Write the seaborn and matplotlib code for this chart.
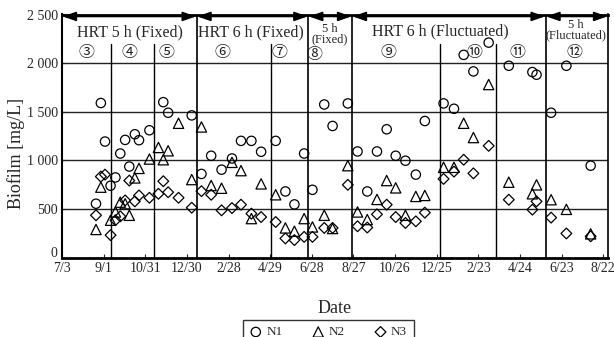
import numpy as np
import seaborn as sns
import matplotlib.pyplot as plt
from matplotlib.transforms import ScaledTranslation

nan = np.nan

# sampling day, counted from 7/3 of the first year
days = [49, 56, 62, 70, 77, 84, 91, 97, 105, 111, 126, 139, 146, 153, 168, 187,
        201, 215, 230, 245, 258, 273, 287, 308, 322, 335, 349, 361, 378, 390, 412,
        426, 440, 454, 468, 481, 495, 510, 523, 550, 565, 579, 593, 615, 644, 678,
        684, 705, 727, 762]
n1 = [555, 1590, 1194, 740, 825, 1071, 1211, 937, 1269, 1208, 1310, nan, 1599, 1490, nan, 1463,
      861, 1048, 905, 1020, 1201, 1201, 1089, 1201, 681, 548, 1071, 698, 1575, 1354, 1586,
      1092, 681, 1092, 1320, 1048, 997, 854, 1405, 1586, 1531, 2085, 1915, 2211, 1973, 1908,
      1881, 1490, 1973, 946]
n2 = [290, 725, nan, 385, 470, 571, 555, 436, 820, 918, 1014, 1133, 1007, 1099, 1382, 803,
      1344, 742, 714, 980, 895, 402, 759, 647, 306, 272, 402, 316, 436, 300, 946,
      470, 392, 599, 793, 718, 436, 630, 640, 929, 929, 1382, 1235, 1780, 776, 657,
      749, 596, 497, 245]
n3 = [436, 834, 854, 232, 385, 425, 589, 793, 579, 640, 616, 657, 786, 673, 616, 514,
      684, 647, 487, 510, 545, 453, 418, 367, 198, 181, 214, 214, 306, 306, 749,
      323, 310, 446, 545, 418, 357, 374, 463, 810, 885, 1007, 867, 1150, 596, 494,
      579, 412, 249, 220]

tick_days = list(range(0, 781, 60))
tick_labels = ['7/3', '9/1', '10/31', '12/30', '2/28', '4/29', '6/28', '8/27',
               '10/26', '12/25', '2/23', '4/24', '6/23', '8/22']
y_ticks = [0, 500, 1000, 1500, 2000, 2500]
y_labels = ['0', '500', '1 000', '1 500', '2 000', '2 500']

# operating periods (long lines) and sub-runs (short lines)
period_edges = [0, 194, 355, 418, 697, 787]
period_names = ['HRT 5 h (Fixed)', 'HRT 6 h (Fixed)', '5 h\n(Fixed)',
                'HRT 6 h (Fluctuated)', '5 h\n(Fluctuated)']
run_edges = [70.6, 133, 300.7, 544.7, 625]
run_names = ['③', '④', '⑤', '⑥', '⑦', '⑧', '⑨', '⑩', '⑪', '⑫']
run_pos = [35.6, 98, 151, 232, 314, 364.5, 470, 595, 656, 738]

sns.set_style('ticks')
plt.rcParams['font.family'] = ['Liberation Serif', 'DejaVu Sans']

fig = plt.figure(figsize=(6.14, 3.37), dpi=100)
ax = fig.add_axes([62 / 614, 1 - 257.7 / 337, 546 / 614, 243.2 / 337])

for yy in [500, 1000, 1500, 2000]:
    ax.axhline(yy, color='#222222', lw=1.0, zorder=1)
for xx in period_edges[1:-1]:
    ax.axvline(xx, color='black', lw=1.2, zorder=1)
for xx in run_edges:
    ax.plot([xx, xx], [0, 2200], color='black', lw=1.0, zorder=1)

sns.scatterplot(x=days, y=n1, marker='o', s=45, facecolor='none', edgecolor='black',
                linewidth=0.9, ax=ax, label='N1', zorder=3)
sns.scatterplot(x=days, y=n2, marker='^', s=55, facecolor='none', edgecolor='black',
                linewidth=0.9, ax=ax, label='N2', zorder=3)
sns.scatterplot(x=days, y=n3, marker='D', s=30, facecolor='none', edgecolor='black',
                linewidth=0.9, ax=ax, label='N3', zorder=3)

ax.set_xlim(0, 787)
ax.set_ylim(0, 2500)
ax.set_xticks(tick_days)
ax.set_xticklabels(tick_labels, fontsize=10)
ax.set_yticks(y_ticks)
ax.set_yticklabels(y_labels, fontsize=10)
ax.tick_params(direction='in', length=3, width=0.8, pad=3)
for side, w in [('left', 1.5), ('bottom', 2.0), ('top', 2.0), ('right', 1.2)]:
    ax.spines[side].set_visible(True)
    ax.spines[side].set_linewidth(w)
    ax.spines[side].set_color('black')

# lift the "0" a little so it clears "7/3"
zero_lab = ax.get_yticklabels()[0]
zero_lab.set_transform(zero_lab.get_transform() +
                       ScaledTranslation(0, 4 / 72, fig.dpi_scale_trans))

ax.set_xlabel('Date', fontsize=13, labelpad=18)
ax.set_ylabel('Biofilm [mg/L]', fontsize=13)
ax.yaxis.set_label_coords(-0.068, 0.43)

# period arrows and labels
for i in range(len(period_names)):
    a, b = period_edges[i], period_edges[i + 1]
    ax.annotate('', xy=(a + 1, 2480), xytext=(b - 1, 2480), annotation_clip=False,
                arrowprops=dict(arrowstyle='<|-|>,head_length=0.8,head_width=0.28',
                                color='black', lw=1.2, shrinkA=0, shrinkB=0))
ax.text(98, 2320, period_names[0], ha='center', va='center', fontsize=11.5)
ax.text(272, 2320, period_names[1], ha='center', va='center', fontsize=11.5)
ax.text(386, 2300, period_names[2], ha='center', va='center', fontsize=9,
        linespacing=0.75)
ax.text(545, 2325, period_names[3], ha='center', va='center', fontsize=11.5)
ax.text(741, 2335, period_names[4], ha='center', va='center', fontsize=9,
        linespacing=0.8)
for name, xx in zip(run_names, run_pos):
    yy = 2110 if name != '⑧' else 2090
    ax.text(xx, yy, name, ha='center', va='center', fontsize=11.5,
            family=['Noto Sans CJK JP', 'DejaVu Sans'])

leg = ax.legend(loc='upper left', bbox_to_anchor=(236 / 614, 1 - 313 / 337),
                bbox_transform=fig.transFigure, ncol=3, frameon=True, fancybox=False,
                edgecolor='black', fontsize=9.5, handletextpad=0.3, columnspacing=2.2,
                borderpad=0.5, handlelength=1.0)
leg.get_frame().set_linewidth(1.0)

fig.savefig('out.png', dpi=100)
